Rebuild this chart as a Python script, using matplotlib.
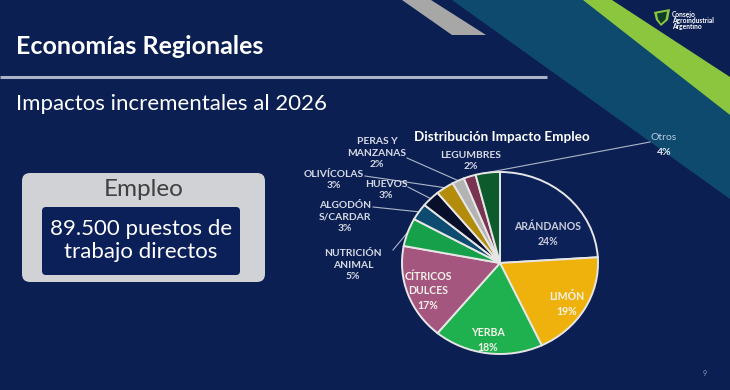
import numpy as np
import matplotlib
matplotlib.use('Agg')
import matplotlib.pyplot as plt
from matplotlib.patches import Polygon, FancyBboxPatch

# ---------------- data ----------------
categories = ['ARÁNDANOS', 'LIMÓN', 'YERBA', 'CÍTRICOS DULCES', 'NUTRICIÓN ANIMAL',
              'ALGODÓN S/CARDAR', 'HUEVOS', 'OLIVÍCOLAS', 'PERAS Y MANZANAS',
              'LEGUMBRES', 'Otros']
label_names = ['ARÁNDANOS', 'LIMÓN', 'YERBA', 'CÍTRICOS\nDULCES', 'NUTRICIÓN\nANIMAL',
               'ALGODÓN\nS/CARDAR', 'HUEVOS', 'OLIVÍCOLAS', 'PERAS Y\nMANZANAS',
               'LEGUMBRES', 'Otros']
shares = [24, 19, 18, 17, 5, 3, 3, 3, 2, 2, 4]
slice_colors = ['#0d2159', '#efb20c', '#1fb04f', '#a5567f', '#16a049',
                '#0d4b70', '#080f2a', '#b48c0c', '#b3b3b3', '#7a3452', '#0d5a2c']
chart_title = 'Distribución Impacto Empleo'
slide_title = 'Economías Regionales'
slide_subtitle = 'Impactos incrementales al 2026'
box_title = 'Empleo'
box_value = '89.500 puestos de\ntrabajo directos'
logo_lines = ['Consejo', 'Agroindustrial', 'Argentino']
page_number = '9'

# ---------------- style ----------------
plt.rcParams['font.family'] = ['Lato', 'DejaVu Sans']
NAVY = '#0b1f52'
TEAL = '#0d4a6d'
LIME = '#8cc63f'
GRAY = '#a7a7a7'
W, H = 730, 390

fig = plt.figure(figsize=(7.3, 3.9), dpi=100)
fig.patch.set_facecolor(NAVY)

bg = fig.add_axes([0, 0, 1, 1])
bg.set_xlim(0, W)
bg.set_ylim(H, 0)
bg.axis('off')
bg.set_zorder(0)

# decorative stripes
bg.add_patch(Polygon([(452, 0), (587, 0), (730, 115), (730, 199)], closed=True,
                     facecolor=TEAL, edgecolor='none'))
bg.add_patch(Polygon([(583, 0), (612, 0), (730, 77), (730, 115)], closed=True,
                     facecolor=LIME, edgecolor='none'))
bg.add_patch(Polygon([(402, 0), (431, 0), (486, 35), (452, 35)], closed=True,
                     facecolor=GRAY, edgecolor='none'))

# logo
bg.add_patch(Polygon([(654, 12), (670, 9), (668, 20), (661, 26), (656, 20)], closed=True,
                     facecolor=LIME, edgecolor='none'))
bg.add_patch(Polygon([(657, 13.5), (667, 11.5), (665.5, 19.5), (661, 23.5), (658, 19)],
                     closed=True, facecolor='#0f3d2a', edgecolor='none'))
for i, s in enumerate(logo_lines):
    bg.text(672, 14 + i * 6.5, s, color='white', fontsize=4.8, fontweight='bold',
            ha='left', va='center')

# slide titles
bg.text(16, 54, slide_title, color='white', fontsize=18, fontweight='bold',
        ha='left', va='baseline')
bg.plot([0, 547], [77, 77], color='#aab3c8', lw=2.2, solid_capstyle='butt')
bg.text(16, 110, slide_subtitle, color='white', fontsize=16, ha='left', va='baseline')

# employment box
bg.add_patch(FancyBboxPatch((22, 173), 243, 109,
                            boxstyle='round,pad=0,rounding_size=8',
                            facecolor='#d1d2d6', edgecolor='none'))
bg.add_patch(FancyBboxPatch((42, 207), 198, 68,
                            boxstyle='round,pad=0,rounding_size=4',
                            facecolor='#0b1f58', edgecolor='none'))
bg.text(143.5, 196, box_title, color='#404040', fontsize=17.5, ha='center', va='baseline')
v1, v2 = box_value.split('\n')
bg.text(141, 235, v1, color='white', fontsize=16, ha='center', va='baseline')
bg.text(141, 258, v2, color='white', fontsize=16, ha='center', va='baseline')

bg.text(705, 374, page_number, color='#8a97b8', fontsize=5, ha='center', va='center')

# ---------------- pie ----------------
CX, CY, RX, RY = 500, 263, 98, 91
ax = fig.add_axes([(CX - RX) / W, (H - (CY + RY)) / H, 2 * RX / W, 2 * RY / H])
ax.set_zorder(1)
ax.patch.set_alpha(0)


def px2u(px, py):
    return ((px - CX) / RX, (CY - py) / RY)


wedges, _ = ax.pie(shares, colors=slice_colors, startangle=90, counterclock=False,
                   wedgeprops=dict(edgecolor='#e6e6e6', linewidth=1.4))
ax.set_aspect('auto')
ax.set_xlim(-1, 1)
ax.set_ylim(-1, 1)
ax.axis('off')

# title of chart
tx, ty = px2u(502, 137)
ax.text(tx, ty, chart_title, color='white', fontsize=9.7, fontweight='bold',
        ha='center', va='center')

label_pos = {0: (548, 234), 1: (567, 304), 2: (488, 340), 3: (428, 291),
             4: (353, 265), 5: (345, 217), 6: (386, 190), 7: (334, 180),
             8: (377, 153), 9: (471, 161), 10: (664, 145)}
leader_anchor = {4: (393, 250), 5: (373, 207), 6: (408, 187), 7: (365, 176),
                 8: (407, 158), 10: (650, 142)}
attach_frac = {10: 0.9}
inside = {0, 1, 2, 3}

for i, (w, name, val) in enumerate(zip(wedges, label_names, shares)):
    txt = f'{name}\n{val}%'
    x, y = px2u(*label_pos[i])
    if i in inside:
        col = '#c9cdd9' if i == 0 else '#f4f2ea'
        ax.text(x, y, txt, color=col, fontsize=7.6, fontweight='bold',
                ha='center', va='center', linespacing=1.35)
    else:
        if i == 10:
            ax.text(x, y + 0.08, name, color='#b9cbe4', fontsize=7.5, ha='center', va='center')
            ax.text(x, y - 0.08, f'{val}%', color='#e6e9f0', fontsize=7.5, fontweight='bold',
                    ha='center', va='center')
        else:
            ax.text(x, y, txt, color='#d6dae4', fontsize=7.4, fontweight='bold',
                    ha='center', va='center', linespacing=1.42)
    if i in leader_anchor:
        f = attach_frac.get(i, 0.5)
        ang = np.deg2rad(w.theta1 + f * (w.theta2 - w.theta1))
        ex, ey = 1.0 * np.cos(ang), 1.0 * np.sin(ang)
        axx, ayy = px2u(*leader_anchor[i])
        ax.plot([axx, ex], [ayy, ey], color='#aeb7ca', lw=0.8, clip_on=False, zorder=0.5)

fig.savefig('out.png', dpi=100, facecolor=fig.get_facecolor())
